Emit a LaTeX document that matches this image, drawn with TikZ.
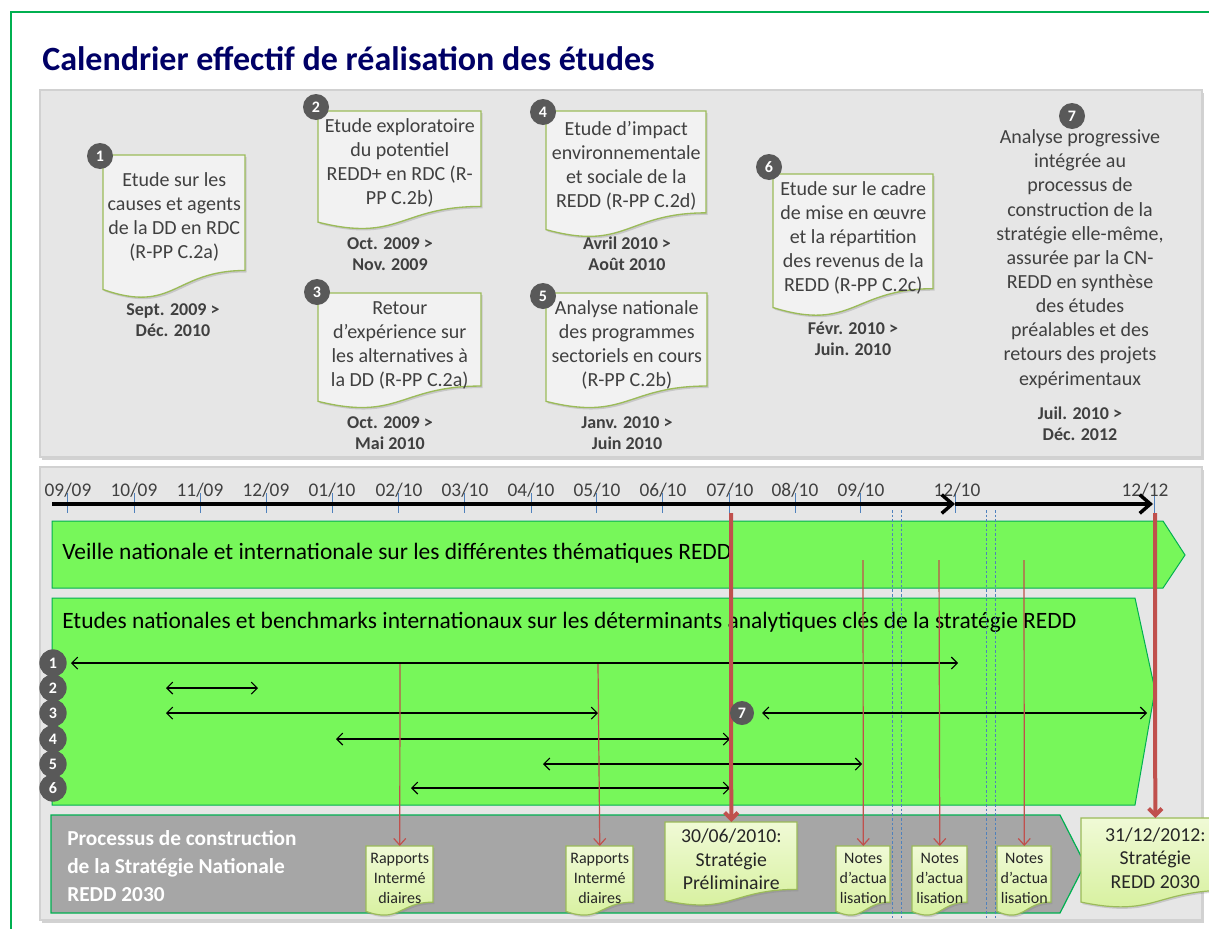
\documentclass[tikz,border=0pt]{standalone}
\usepackage{fontspec}
\setmainfont{Carlito}
\usetikzlibrary{arrows.meta,shadows}
\definecolor{titleblue}{HTML}{000066}
\definecolor{txtgray}{HTML}{404040}
\definecolor{badgegray}{HTML}{595959}
\definecolor{docgreen}{HTML}{9BBB59}
\definecolor{docfill}{HTML}{F2F2F2}
\definecolor{bandgreen}{HTML}{77F75A}
\definecolor{bandline}{HTML}{00B050}
\definecolor{procgray}{HTML}{A6A6A6}
\definecolor{panelgray}{HTML}{E6E6E6}
\definecolor{redline}{HTML}{C0504D}
\definecolor{tickblue}{HTML}{4F81BD}
\definecolor{notetop}{HTML}{F0FAD6}
\definecolor{notebot}{HTML}{D5F09A}

\newcommand{\studydoc}[8]{%
  \path[#2] (#4,#5) -- ({#4+#6},#5) -- ({#4+#6},{#5+0.802*#7})
    .. controls ({#4+0.5*#6},{#5+0.802*#7}) and ({#4+0.5*#6},{#5+1.1075*#7}) .. (#4,{#5+0.934*#7}) -- cycle;
  \node[#3,anchor=north west,minimum width=#6*0.75pt,minimum height=0.802*#7*0.75pt] (#1) at (#4,#5) {\rule{0pt}{1.05em}#8};}

\begin{document}
\begin{tikzpicture}[x=0.75pt,y=-0.75pt,
  panel/.style={fill=panelgray,draw=black!18,line width=0.8pt,drop shadow={shadow xshift=1.5pt,shadow yshift=-2pt,opacity=0.35}},
  badge/.style={circle,fill=badgegray,text=white,font=\bfseries\fontsize{12}{12}\selectfont,minimum size=19.5pt},
  topdoc/.style={fill=docfill,draw=docgreen,line width=1pt,drop shadow={shadow xshift=1.2pt,shadow yshift=-1.5pt,opacity=0.3}},
  notedoc/.style={top color=notetop,bottom color=notebot,draw=docgreen,line width=0.9pt,drop shadow={shadow xshift=1pt,shadow yshift=-1.5pt,opacity=0.3}},
  doctext/.style={align=center,text=txtgray,font=\fontsize{15}{18}\selectfont},
  freetext/.style={align=center,text=txtgray,font=\fontsize{15}{18.1}\selectfont},
  datetext/.style={align=center,text=txtgray,font=\bfseries\fontsize{13.5}{15.75}\selectfont},
  notetext/.style={align=center,text=black!85,font=\fontsize{12}{15}\selectfont},
  keytext/.style={align=center,text=black!85,font=\fontsize{14.8}{17.6}\selectfont},
  month/.style={text=black!75,font=\fontsize{14.5}{15}\selectfont},
  monthtick/.style={tickblue,line width=0.75pt},
  timeaxis/.style={-{Straight Barb[length=8pt,width=14pt]},line width=2.6pt},
  band/.style={fill=bandgreen,draw=bandline,line width=0.75pt},
  procband/.style={fill=procgray,draw=bandline,line width=0.9pt},
  bandtext/.style={anchor=west,font=\fontsize{17.6}{19}\selectfont},
  proctext/.style={anchor=west,align=left,text=white,font=\bfseries\fontsize{16}{21}\selectfont},
  span/.style={{Straight Barb[length=4.5pt,width=9pt]}-{Straight Barb[length=4.5pt,width=9pt]},line width=0.8pt},
  vdash/.style={tickblue,dashed,dash pattern=on 2pt off 1.5pt,line width=0.6pt},
  thinred/.style={redline,line width=0.9pt,-{Straight Barb[length=5pt,width=9pt]}},
  thickred/.style={redline,line width=3pt,-{Straight Barb[length=5pt,width=10pt]}}]
\tikzstyle{every node}+=[inner sep=0pt]
\useasboundingbox (0,0) rectangle (1209,928);
\clip (0,0) rectangle (1209,928);
\fill[white] (0,0) rectangle (1209,928);
\draw[bandline,line width=1.2pt] (11,12) rectangle (1240,950);
\node[anchor=base west,text=titleblue,font=\bfseries\fontsize{25.5}{30}\selectfont] (title) at (42,70) {Calendrier effectif de réalisation des études};
\draw[panel] (40,90) rectangle (1202,457);
\draw[panel] (40,467) rectangle (1202,920);

\studydoc{d1}{topdoc}{doctext}{103}{155}{142}{144}{Etude sur les\\causes et agents\\de la DD en RDC\\(R-PP C.2a)}
\studydoc{d2}{topdoc}{doctext}{318}{111}{163}{119}{Etude exploratoire\\du potentiel\\REDD+ en RDC (R-\\PP C.2b)}
\studydoc{d3}{topdoc}{doctext}{318}{293}{163}{116}{Retour\\d’expérience sur\\les alternatives à\\la DD (R-PP C.2a)}
\studydoc{d4}{topdoc}{doctext}{546}{111}{160}{127}{Etude d’impact\\environnementale\\et sociale de la\\REDD (R-PP C.2d)}
\studydoc{d5}{topdoc}{doctext}{546}{293}{161}{116}{Analyse nationale\\des programmes\\sectoriels en cours\\(R-PP C.2b)}
\studydoc{d6}{topdoc}{doctext}{773}{174}{160}{143}{Etude sur le cadre\\de mise en œuvre\\et la répartition\\des revenus de la\\REDD (R-PP C.2c)}
\node[freetext] (s7) at (1080,259) {Analyse progressive\\intégrée au\\processus de\\construction de la\\stratégie elle-même,\\assurée par la CN-\\REDD en synthèse\\des études\\préalables et des\\retours des projets\\expérimentaux};

\node[badge] (b1) at (100,156) {1};
\node[badge] (b2) at (316,107) {2};
\node[badge] (b3) at (317,292) {3};
\node[badge] (b4) at (543,112) {4};
\node[badge] (b5) at (543,296) {5};
\node[badge] (b6) at (769,167) {6};
\node[badge] (b7) at (1072,116) {7};

\node[datetext] (dt1) at (173,320) {Sept. 2009 >\\Déc. 2010};
\node[datetext] (dt2) at (390,254) {Oct. 2009 >\\Nov. 2009};
\node[datetext] (dt3) at (390,433) {Oct. 2009 >\\Mai 2010};
\node[datetext] (dt4) at (627,254) {Avril 2010 >\\Août 2010};
\node[datetext] (dt5) at (627,433) {Janv. 2010 >\\Juin 2010};
\node[datetext] (dt6) at (853,339) {Févr. 2010 >\\Juin. 2010};
\node[datetext] (dt7) at (1080,424) {Juil. 2010 >\\Déc. 2012};

\foreach \t/\l/\a/\b [count=\i] in {67.5/68/09/09,134.5/134/10/09,200/200/11/09,266.5/266/12/09,332.3/332/01/10,398.5/399/02/10,464.4/465/03/10,531/531/04/10,596.4/597/05/10,662.9/663/06/10,729/730/07/10,795/795/08/10,860.6/861/09/10,955/957/12/10,1154.6/1145/12/12}
{
  \draw[monthtick] (\t,493) -- (\t,513);
  \node[month] (m\i) at (\l,490) {\a/\b};
}
\coordinate (ax0) at (52,504);
\coordinate (ax1) at (955,504);
\coordinate (ax2) at (1153,504);
\draw[timeaxis] (ax0) -- (ax1);
\draw[timeaxis] (ax1) -- (ax2);

\draw[band] (52,521) -- (1163,521) -- (1185,555) -- (1163,588) -- (52,588) -- cycle;
\draw[band] (52,598) -- (1135,598) -- (1155,690) -- (1135,805) -- (52,805) -- cycle;
\draw[procband] (51,815) -- (1060,815) -- (1085,864) -- (1060,913) -- (51,913) -- cycle;
\node[bandtext] (veille) at (62,553) {Veille nationale et internationale sur les différentes thématiques REDD};
\node[bandtext] (etudes) at (62,622) {Etudes nationales et benchmarks internationaux sur les déterminants analytiques clés de la stratégie REDD};
\node[proctext] (proc) at (67,866) {Processus de construction\\de la Stratégie Nationale\\REDD 2030};

\foreach \x in {892,901,986,995}
  \draw[vdash] (\x,510) -- (\x,918);

\foreach \i/\a/\b/\y in {1/71/958/663,2/166/258/688,3/166/598/713,4/336/730/739,5/543/862/764,6/411/730/788,7/762/1147/713}
{
  \coordinate (s\i) at (\a,\y);
  \coordinate (e\i) at (\b,\y);
  \draw[span] (s\i) -- (e\i);
}

\studydoc{rap1}{notedoc}{notetext}{366}{846}{67}{70}{Rapports\\Intermé\\diaires}
\studydoc{rap2}{notedoc}{notetext}{566}{846}{67}{70}{Rapports\\Intermé\\diaires}
\studydoc{prelim}{notedoc}{keytext}{665}{822}{132}{84}{30/06/2010:\\Stratégie\\Préliminaire}
\studydoc{note1}{notedoc}{notetext}{836}{846}{54}{70}{Notes\\d’actua\\lisation}
\studydoc{note2}{notedoc}{notetext}{912}{846}{55}{70}{Notes\\d’actua\\lisation}
\studydoc{note3}{notedoc}{notetext}{997}{846}{54}{70}{Notes\\d’actua\\lisation}
\studydoc{final}{notedoc}{keytext}{1081}{818}{148}{90}{31/12/2012:\\Stratégie\\REDD 2030}

\coordinate (p1) at (400,664);
\coordinate (p2) at (598,664);
\coordinate (p3) at (863,560);
\coordinate (p4) at (939,560);
\coordinate (p5) at (1024,560);
\coordinate (q1) at (731,513);
\coordinate (q2) at (1155,513);
\draw[thinred] (p1) -- (rap1.north);
\draw[thinred] (p2) -- (rap2.north);
\draw[thinred] (p3) -- (note1.north);
\draw[thinred] (p4) -- (note2.north);
\draw[thinred] (p5) -- (note3.north);
\draw[thickred] (q1) -- (prelim.north);
\draw[thickred] (q2) -- (final.north);

\foreach \i/\y in {1/663,2/688,3/713,4/739,5/764,6/788}
  \node[badge,minimum size=20.5pt] (r\i) at (53,\y) {\i};
\node[badge,minimum size=18pt] (r7) at (742,713) {7};
\end{tikzpicture}
\end{document}
